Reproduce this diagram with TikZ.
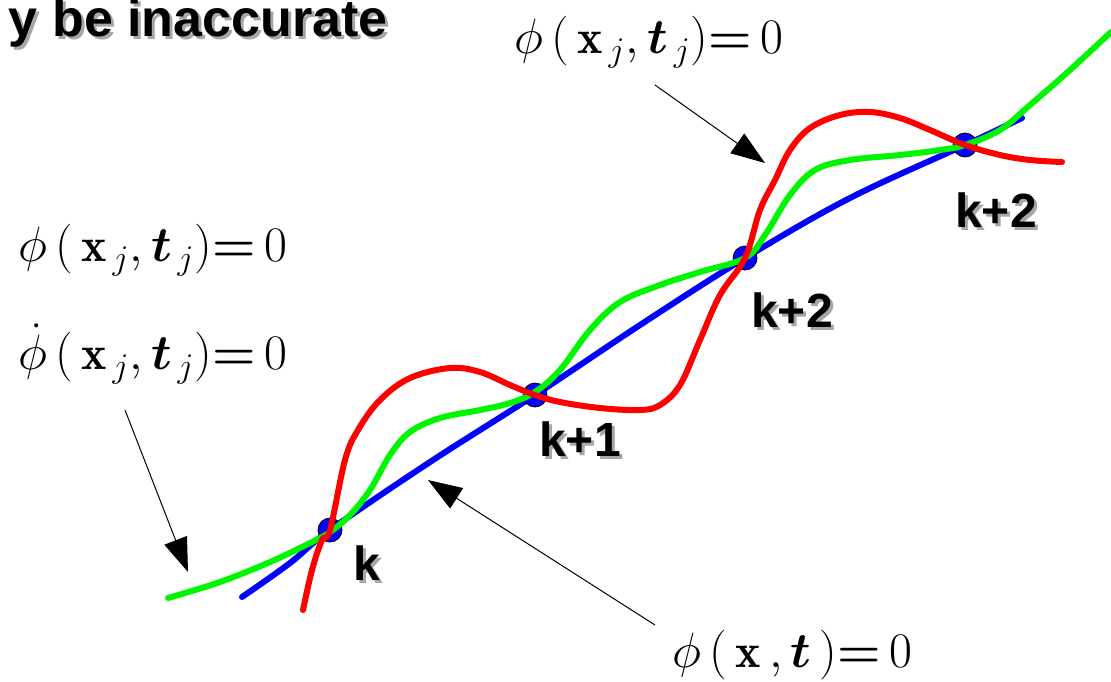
\documentclass[tikz,border=0pt]{standalone}
\usepackage{fontspec}
\usepackage{bm}
\setsansfont{Liberation Sans}
\usetikzlibrary{arrows.meta}
\definecolor{cblue}{RGB}{0,0,255}
\definecolor{cgreen}{RGB}{0,245,0}
\definecolor{cred}{RGB}{255,0,0}
\newcommand{\shtext}[1]{\rlap{\textcolor{black!35}{\raisebox{-1.5pt}{\hspace{1.5pt}#1}}}#1}
\tikzset{
  curve/.style={line width=3pt,line cap=round},
  dotpt/.style={circle,fill=cblue,draw=black,line width=0.4pt,inner sep=0pt,minimum size=12pt},
  ptlabel/.style={font=\fontsize{24}{28}\selectfont\sffamily\bfseries,inner sep=0pt},
  titlelabel/.style={font=\fontsize{26}{30}\selectfont\sffamily\bfseries,inner sep=0pt},
  eqlabel/.style={font=\fontsize{24}{28}\selectfont,inner sep=0pt},
  pointer/.style={line width=0.5pt,-{Triangle[length=17pt,width=12pt]}}
}
\begin{document}
\begin{tikzpicture}[x=0.5pt,y=-0.5pt]
\useasboundingbox (0,0) rectangle (1111,681);
% blue curve
\draw[curve,cblue] plot[smooth,tension=0.6] coordinates {(242,597) (290,563) (330,530) (430,462) (535,395) (640,325) (745,258) (850,198) (965,145) (1022,118)};
% dots
\node[dotpt] (k0) at (330,530) {};
\node[dotpt] (k1) at (535,395) {};
\node[dotpt] (k2) at (745,258) {};
\node[dotpt] (k3) at (965,145) {};
% green curve
\draw[curve,cgreen] plot[smooth,tension=0.6] coordinates {(168,598) (220,582) (270,562) (310,543) (330,532) (350,515) (370,490) (390,455) (410,432) (440,418) (480,410) (510,403) (535,392) (560,370) (590,330) (620,302) (660,285) (700,272) (745,258) (765,235) (790,195) (815,170) (850,160) (900,155) (940,150) (965,145) (1000,130) (1030,105) (1070,70) (1111,32)};
% red curve
\draw[curve,cred] plot[smooth,tension=0.6] coordinates {(303,610) (312,570) (322,540) (330,530) (345,460) (358,430) (380,400) (410,378) (450,368) (480,372) (510,385) (535,395) (560,402) (600,408) (640,410) (660,405) (680,385) (700,340) (720,295) (745,258) (760,210) (775,180) (790,150) (810,128) (840,115) (870,112) (900,118) (930,130) (965,145) (1000,155) (1030,160) (1062,162)};
% labels
\node[ptlabel] (lk0) at (367,565) {\shtext{k}};
\node[ptlabel] (lk1) at (580,441) {\shtext{k+1}};
\node[ptlabel] (lk2) at (792,312) {\shtext{k+2}};
\node[ptlabel] (lk3) at (996,212) {\shtext{k+2}};
\node[titlelabel,anchor=base east] (title) at (388,36) {\shtext{y be inaccurate}};
% equations
\node[eqlabel,anchor=west] (eqtop) at (514,42) {$\phi\,(\,\mathbf{x}_{\,j},\bm{t}_{\,j}){\bm{=}}\,0$};
\node[eqlabel,anchor=west] (eqleft1) at (18,250) {$\phi\,(\,\mathbf{x}_{\,j},\bm{t}_{\,j}){\bm{=}}\,0$};
\node[eqlabel,anchor=west] (eqleft2) at (18,354) {$\dot\phi\,(\,\mathbf{x}_{\,j},\bm{t}_{\,j}){\bm{=}}\,0$};
\node[eqlabel,anchor=west] (eqbot) at (672,655) {$\phi\,(\,\mathbf{x}\,,\bm{t}\,){\bm{=}}\,0$};
% arrows
\coordinate (a1s) at (655,85);
\coordinate (a1e) at (765,163);
\coordinate (a2s) at (125,410);
\coordinate (a2e) at (188,572);
\coordinate (a3s) at (655,625);
\coordinate (a3e) at (428,480);
\draw[pointer] (a1s) -- (a1e);
\draw[pointer] (a2s) -- (a2e);
\draw[pointer] (a3s) -- (a3e);
\end{tikzpicture}
\end{document}
